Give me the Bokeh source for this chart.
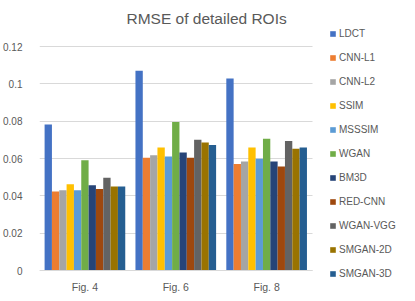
from bokeh.plotting import figure
from bokeh.models import ColumnDataSource, Range1d, FixedTicker, Legend, LegendItem
from bokeh.transform import dodge
from bokeh.embed import file_html
from bokeh.resources import INLINE

figures = ["Fig. 4", "Fig. 6", "Fig. 8"]
methods = ["LDCT", "CNN-L1", "CNN-L2", "SSIM", "MSSSIM", "WGAN", "BM3D",
           "RED-CNN", "WGAN-VGG", "SMGAN-2D", "SMGAN-3D"]
colors = ["#4472C4", "#ED7D31", "#A5A5A5", "#FFC000", "#5B9BD5", "#70AD47",
          "#264478", "#9E480E", "#636363", "#997300", "#255E91"]

LDCT = [0.0782, 0.1070, 0.1029]
CNN_L1 = [0.0423, 0.0604, 0.0571]
CNN_L2 = [0.0430, 0.0618, 0.0584]
SSIM = [0.0462, 0.0659, 0.0659]
MSSSIM = [0.0430, 0.0611, 0.0598]
WGAN = [0.0591, 0.0796, 0.0706]
BM3D = [0.0457, 0.0632, 0.0584]
RED_CNN = [0.0437, 0.0604, 0.0557]
WGAN_VGG = [0.0497, 0.0701, 0.0694]
SMGAN_2D = [0.0450, 0.0686, 0.0652]
SMGAN_3D = [0.0450, 0.0672, 0.0659]
series = [LDCT, CNN_L1, CNN_L2, SSIM, MSSSIM, WGAN, BM3D, RED_CNN, WGAN_VGG, SMGAN_2D, SMGAN_3D]

y_ticks = [0, 0.02, 0.04, 0.06, 0.08, 0.1, 0.12]
y_tick_labels = ["0", "0.02", "0.04", "0.06", "0.08", "0.1", "0.12"]

FONT = "Liberation Sans"
TXT = "#595959"
GRID = "#D9D9D9"

# layout (pixels): plot area 277 x 224 for 3 groups and 0..0.12
PX_PER_GROUP = 277 / 3
PX_PER_UNIT = 224 / 0.12
FRAME_W = 374
TOP_EXTRA = 20
BOTTOM_EXTRA = 26

n = len(figures)
xc = [i + 0.5 for i in range(n)]
data = {"xc": xc}
for m, s in zip(methods, series):
    data[m] = s
source = ColumnDataSource(data)

x_end = FRAME_W / PX_PER_GROUP
y_top = y_ticks[-1] + TOP_EXTRA / PX_PER_UNIT
y_bot = -BOTTOM_EXTRA / PX_PER_UNIT

p = figure(width=407, height=300, x_range=Range1d(0, x_end), y_range=Range1d(y_bot, y_top),
           output_backend="svg", toolbar_location=None,
           min_border_left=33, min_border_right=0, min_border_top=26, min_border_bottom=4)

bw = 0.0807
items = []
for i, (m, c) in enumerate(zip(methods, colors)):
    r = p.vbar(x=dodge("xc", (i - 5) * bw), top=m, width=bw,
               source=source, fill_color=c, line_color=None)
    items.append(LegendItem(label=m, renderers=[r]))

legend = Legend(items=items, location=(290, 17), glyph_width=7, glyph_height=7,
                label_text_font=FONT, label_text_font_size="10px", label_text_color=TXT,
                label_standoff=3, spacing=12, label_height=12, padding=0, margin=0,
                border_line_color=None, background_fill_alpha=0)
p.add_layout(legend, "center")

p.title.text = "RMSE of detailed ROIs"
p.title.align = "left"
p.title.offset = 87
p.title.standoff = 0
p.title.text_font = FONT
p.title.text_font_size = "15.5px"
p.title.text_font_style = "normal"
p.title.text_color = TXT

p.yaxis.ticker = FixedTicker(ticks=y_ticks)
p.yaxis.major_label_overrides = {t: l for t, l in zip(y_ticks, y_tick_labels)}
p.yaxis.axis_line_color = None
p.yaxis.major_tick_line_color = None
p.yaxis.minor_tick_line_color = None
p.yaxis.major_label_standoff = 11
p.yaxis.major_label_text_font = FONT
p.yaxis.major_label_text_font_size = "10px"
p.yaxis.major_label_text_color = TXT

p.xaxis.ticker = FixedTicker(ticks=xc)
p.xaxis.major_label_overrides = {x: f for x, f in zip(xc, figures)}
p.xaxis.fixed_location = 0
p.xaxis.bounds = (0, n)
p.xaxis.axis_line_color = GRID
p.xaxis.major_tick_line_color = None
p.xaxis.minor_tick_line_color = None
p.xaxis.major_label_standoff = 4
p.xaxis.major_label_text_font = FONT
p.xaxis.major_label_text_font_size = "10.5px"
p.xaxis.major_label_text_color = TXT

p.xgrid.grid_line_color = None
p.ygrid.grid_line_color = GRID
p.ygrid.cross_bounds = (0, n)
p.outline_line_color = None

open("out.html", "w").write(file_html(p, INLINE))
